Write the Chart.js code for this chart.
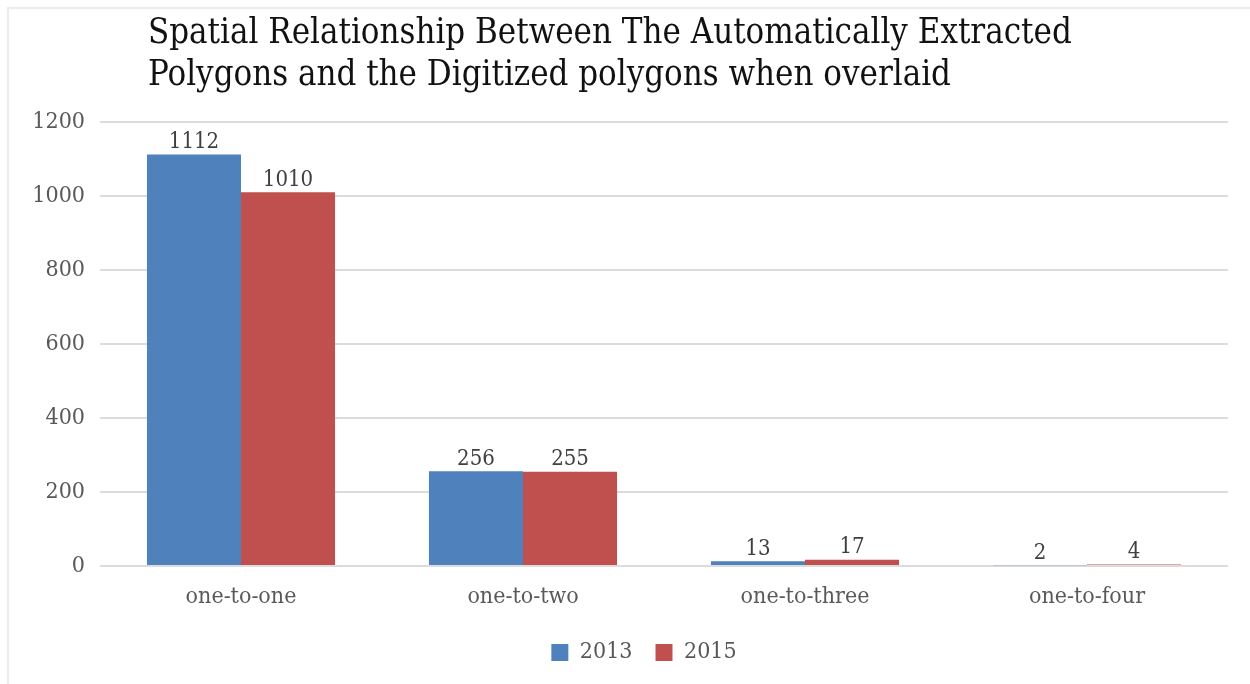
<!DOCTYPE html>
<html>
<head>
<meta charset="utf-8">
<script src="https://cdn.jsdelivr.net/npm/chart.js@4/dist/chart.umd.min.js"></script>
<style>
  html, body { margin: 0; padding: 0; background: #fff; }
  #wrap { position: relative; width: 1250px; height: 684px; }
  #frame {
    position: absolute; left: 7px; top: 7px; right: 0; bottom: 0;
    border-top: 2px solid #ececec; border-left: 2px solid #ececec;
  }
  canvas { position: absolute; left: 0; top: 0; }
</style>
</head>
<body>
<div id="wrap">
  <div id="frame"></div>
  <canvas id="chart" width="1250" height="684"></canvas>
</div>
<script>
const categories = ["one-to-one", "one-to-two", "one-to-three", "one-to-four"];
const values2013 = [1112, 256, 13, 2];
const values2015 = [1010, 255, 17, 4];
const titleLines = [
  "Spatial Relationship Between The Automatically Extracted",
  "Polygons and the Digitized polygons when overlaid",
];

const FONT = "'DejaVu Serif Condensed', 'DejaVu Serif', serif";

// title in the top left, two lines
const titlePlugin = {
  id: "titleLines",
  afterDraw(chart) {
    const c = chart.ctx;
    c.save();
    c.font = "34.5px " + FONT;
    c.fillStyle = "#111";
    c.textBaseline = "alphabetic";
    c.textAlign = "left";
    c.fillText(titleLines[0], 148, 43);
    c.fillText(titleLines[1], 148, 85);
    c.restore();
  },
};

// value labels above each bar
const valueLabels = {
  id: "valueLabels",
  afterDatasetsDraw(chart) {
    const c = chart.ctx;
    c.save();
    c.font = "22px " + FONT;
    c.fillStyle = "#404040";
    c.textAlign = "center";
    c.textBaseline = "bottom";
    chart.data.datasets.forEach((ds, i) => {
      chart.getDatasetMeta(i).data.forEach((bar, j) => {
        c.fillText(ds.data[j], bar.x, bar.y - 1);
      });
    });
    c.restore();
  },
};

// legend sits a little right of centre
const legendShift = {
  id: "legendShift",
  afterLayout(chart) {
    chart.legend.left += 30;
    chart.legend.right += 30;
  },
};

Chart.defaults.font.family = FONT;
Chart.defaults.color = "#595959";

const ctx = document.getElementById("chart").getContext("2d");
const chart = new Chart(ctx, {
  type: "bar",
  data: {
    labels: categories,
    datasets: [
      {
        label: "2013",
        data: values2013,
        backgroundColor: "#4f81bd",
        categoryPercentage: 0.667,
        barPercentage: 1.0,
      },
      {
        label: "2015",
        data: values2015,
        backgroundColor: "#c0504d",
        categoryPercentage: 0.667,
        barPercentage: 1.0,
      },
    ],
  },
  options: {
    responsive: false,
    animation: false,
    layout: {
      padding: { top: 122, right: 22, bottom: 10, left: 0 },
    },
    scales: {
      y: {
        min: 0,
        max: 1200,
        ticks: {
          stepSize: 200,
          padding: 15,
          font: { size: 23 },
          color: "#595959",
          callback: (v) => String(v),
        },
        grid: { color: "#dcdcdc", lineWidth: 2, drawTicks: false },
        border: { display: false },
        afterFit(scale) { scale.width = 100; },
      },
      x: {
        ticks: { padding: 17, font: { size: 23 }, color: "#595959" },
        grid: { display: false, drawTicks: false },
        border: { display: false },
        afterFit(scale) { scale.height = 52; },
      },
    },
    plugins: {
      legend: {
        position: "bottom",
        labels: {
          boxWidth: 17,
          boxHeight: 17,
          padding: 23,
          font: { size: 23 },
          color: "#595959",
        },
      },
      tooltip: { enabled: false },
      title: { display: false },
    },
  },
  plugins: [titlePlugin, valueLabels, legendShift],
});
</script>
</body>
</html>
